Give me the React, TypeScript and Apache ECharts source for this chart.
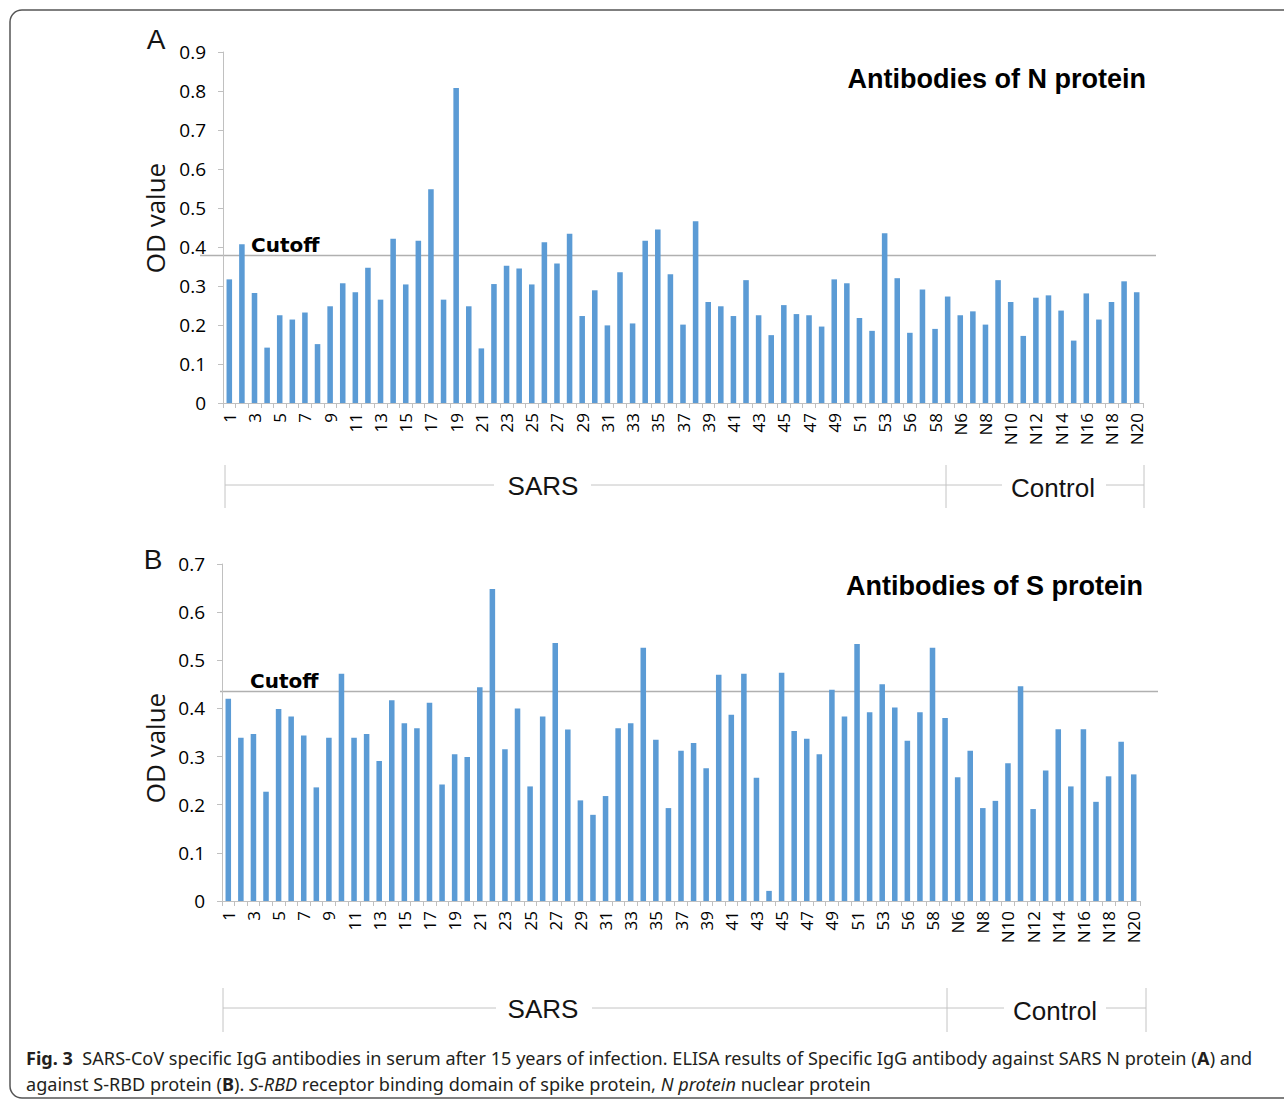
import React, { useEffect, useRef } from "react";
import * as echarts from "echarts";

const categories = [
  "1","2","3","4","5","6","7","8","9","10","11","12","13","14","15","16","17","18","19","20",
  "21","22","23","24","25","26","27","28","29","30","31","32","33","34","35","36","37","38","39","40",
  "41","42","43","44","45","46","47","48","49","50","51","52","53","55","56","57","58",
  "N5","N6","N7","N8","N9","N10","N11","N12","N13","N14","N15","N16","N17","N18","N19","N20",
];

const nProtein = [
  0.317, 0.407, 0.282, 0.142, 0.225, 0.214, 0.232, 0.151, 0.248, 0.307,
  0.284, 0.347, 0.265, 0.421, 0.304, 0.416, 0.548, 0.265, 0.808, 0.248,
  0.140, 0.305, 0.352, 0.345, 0.304, 0.412, 0.358, 0.434, 0.223, 0.289,
  0.199, 0.335, 0.204, 0.416, 0.445, 0.330, 0.201, 0.466, 0.259, 0.248,
  0.223, 0.315, 0.225, 0.174, 0.251, 0.228, 0.225, 0.196, 0.317, 0.307,
  0.218, 0.185, 0.435, 0.320, 0.180, 0.291, 0.190,
  0.273, 0.225, 0.235, 0.201, 0.315, 0.259, 0.172, 0.270, 0.276, 0.237,
  0.160, 0.281, 0.214, 0.259, 0.312, 0.284,
];

const sProtein = [
  0.420, 0.339, 0.347, 0.227, 0.399, 0.383, 0.344, 0.236, 0.339, 0.472,
  0.339, 0.347, 0.291, 0.417, 0.369, 0.359, 0.412, 0.242, 0.305, 0.299,
  0.444, 0.648, 0.315, 0.400, 0.238, 0.383, 0.536, 0.356, 0.209, 0.179,
  0.218, 0.359, 0.369, 0.526, 0.335, 0.193, 0.312, 0.328, 0.276, 0.470,
  0.387, 0.472, 0.256, 0.021, 0.474, 0.353, 0.337, 0.305, 0.439, 0.383,
  0.534, 0.392, 0.450, 0.402, 0.333, 0.392, 0.526,
  0.380, 0.257, 0.312, 0.193, 0.208, 0.286, 0.446, 0.191, 0.271, 0.357,
  0.238, 0.357, 0.206, 0.259, 0.331, 0.263,
];

const cutoffN = 0.378;
const cutoffS = 0.435;
const yMaxN = 0.9;
const yMaxS = 0.7;
const yStep = 0.1;

const titleN = "Antibodies of N protein";
const titleS = "Antibodies of S protein";
const groupLabels = ["SARS", "Control"];

const captionLine1 = "{b|Fig. 3}  SARS-CoV specific IgG antibodies in serum after 15 years of infection. ELISA results of Specific IgG antibody against SARS N protein ({b|A}) and";
const captionLine2 = "against S-RBD protein ({b|B}). {i|S-RBD} receptor binding domain of spike protein, {i|N protein} nuclear protein";

const BAR = "#5b9bd5";
const AXIS = "#c0c0c0";
const TXT = "#000000";
const LABEL_FONT = "'Open Sans', 'Noto Sans', sans-serif";
const ARIAL = "'Liberation Sans', Arial, sans-serif";
const CAP_FONT = "'Noto Sans', 'Open Sans', sans-serif";

function measure(text: string, size: number, family: string): number {
  const c = document.createElement("canvas").getContext("2d");
  if (!c) return 0;
  let w = 0;
  const re = /\{(\w)\|([^}]*)\}|([^{]+)/g;
  let m: RegExpExecArray | null;
  while ((m = re.exec(text))) {
    if (m[3] !== undefined) {
      c.font = `normal normal ${size}px ${family}`;
      w += c.measureText(m[3]).width;
    } else {
      const st = m[1] === "i" ? "italic" : "normal";
      const wt = m[1] === "b" ? "bold" : "normal";
      c.font = `${st} normal ${wt} ${size}px ${family}`;
      w += c.measureText(m[2]).width;
    }
  }
  return w;
}

function xAxisCfg(gridIndex: number) {
  return {
    type: "category" as const,
    gridIndex,
    data: categories,
    axisLine: { show: true, lineStyle: { color: AXIS, width: 1 } },
    axisTick: { show: true, interval: 0, length: 5, lineStyle: { color: AXIS } },
    axisLabel: {
      interval: 1,
      rotate: 90,
      fontSize: 17,
      fontFamily: LABEL_FONT,
      color: TXT,
      margin: 10,
    },
  };
}

function yAxisCfg(gridIndex: number, max: number) {
  return {
    type: "value" as const,
    gridIndex,
    min: 0,
    max,
    interval: yStep,
    splitLine: { show: false },
    axisLine: { show: true, lineStyle: { color: AXIS, width: 1 } },
    axisTick: { show: true, length: 5, lineStyle: { color: AXIS } },
    axisLabel: { fontSize: 19, fontFamily: LABEL_FONT, color: TXT, margin: 17 },
  };
}

export default function App() {
  const ref = useRef<HTMLDivElement>(null);

  useEffect(() => {
    if (!ref.current) return;
    const chart = echarts.init(ref.current, undefined, { renderer: "svg" });
    chart.setOption({
      animation: false,
      backgroundColor: "#ffffff",
      grid: [
        { left: 223, top: 52, width: 920, height: 351 },
        { left: 222, top: 564, width: 918, height: 337 },
      ],
      xAxis: [xAxisCfg(0), xAxisCfg(1)],
      yAxis: [yAxisCfg(0, yMaxN), yAxisCfg(1, yMaxS)],
      series: [
        {
          type: "bar",
          xAxisIndex: 0,
          yAxisIndex: 0,
          data: nProtein,
          barWidth: "44%",
          itemStyle: { color: BAR },
        },
        {
          type: "bar",
          xAxisIndex: 1,
          yAxisIndex: 1,
          data: sProtein,
          barWidth: "44%",
          itemStyle: { color: BAR },
        },
      ],
    });

    const yCutA = chart.convertToPixel({ yAxisIndex: 0 }, cutoffN) as number;
    const yCutB = chart.convertToPixel({ yAxisIndex: 1 }, cutoffS) as number;

    const capSize = 18;
    const w1 = measure(captionLine1, capSize, CAP_FONT);
    const capScale = w1 > 0 ? 1226 / w1 : 1;

    const lineStyle = { stroke: "#c4c4c4", lineWidth: 1 };
    const seg = (x1: number, y1: number, x2: number, y2: number, style = lineStyle) => ({
      type: "line",
      silent: true,
      shape: { x1, y1, x2, y2 },
      style,
    });
    const txt = (
      text: string,
      x: number,
      y: number,
      size: number,
      extra: Record<string, unknown> = {},
      family = ARIAL
    ) => ({
      type: "text",
      x,
      y,
      silent: true,
      style: {
        text,
        fontSize: size,
        fontFamily: family,
        fill: "#141414",
        align: "center",
        verticalAlign: "middle",
        ...extra,
      },
    });

    const bracket = (y: number, top: number, bottom: number, xs: number[], gaps: number[][], labelPos: number[][]) => {
      const els: any[] = [];
      xs.forEach((x) => els.push(seg(x, top, x, bottom)));
      gaps.forEach((g) => els.push(seg(g[0], y, g[1], y)));
      groupLabels.forEach((label, i) =>
        els.push(txt(label, labelPos[i][0], labelPos[i][1], 26))
      );
      return els;
    };

    const capRich = {
      b: { fontWeight: "bold", fontSize: capSize, fontFamily: CAP_FONT, fill: "#231f20" },
      i: { fontStyle: "italic", fontSize: capSize, fontFamily: CAP_FONT, fill: "#231f20" },
    };

    const graphic: any[] = [
      {
        type: "rect",
        silent: true,
        shape: { x: 10, y: 10, width: 1300, height: 1088, r: 12 },
        style: { fill: "none", stroke: "#555555", lineWidth: 1.5 },
      },
      txt("A", 156, 39, 28),
      txt("B", 153, 559, 28),
      {
        ...txt("OD value", 155, 218, 26, {}, LABEL_FONT),
        rotation: Math.PI / 2,
      },
      {
        ...txt("OD value", 155, 748, 26, {}, LABEL_FONT),
        rotation: Math.PI / 2,
      },
      txt(titleN, 1146, 79, 27, { align: "right", fontWeight: "bold", fill: "#000" }),
      txt(titleS, 1143, 586, 27, { align: "right", fontWeight: "bold", fill: "#000" }),
      seg(200, yCutA, 1156, yCutA, { stroke: "#b0b0b0", lineWidth: 1.5 }),
      seg(220, yCutB, 1158, yCutB, { stroke: "#b0b0b0", lineWidth: 1.5 }),
      txt("Cutoff", 251, yCutA - 10.5, 20, { align: "left", fontWeight: "bold", fill: "#000" }, "'DejaVu Sans', sans-serif"),
      txt("Cutoff", 250, yCutB - 10.5, 20, { align: "left", fontWeight: "bold", fill: "#000" }, "'DejaVu Sans', sans-serif"),
      ...bracket(485, 465, 508, [225, 946, 1144], [[225, 494], [591, 946], [946, 1002], [1106, 1144]], [[543, 486], [1053, 488]]),
      ...bracket(1008, 988, 1032, [223, 947, 1146], [[223, 496], [592, 947], [947, 1004], [1106, 1146]], [[543, 1009], [1055, 1011]]),
      {
        type: "text",
        x: 26,
        y: 1058,
        scaleX: capScale,
        silent: true,
        style: {
          text: captionLine1,
          fontSize: capSize,
          fontFamily: CAP_FONT,
          fill: "#231f20",
          align: "left",
          verticalAlign: "middle",
          rich: capRich,
        },
      },
      {
        type: "text",
        x: 26,
        y: 1084,
        scaleX: capScale,
        silent: true,
        style: {
          text: captionLine2,
          fontSize: capSize,
          fontFamily: CAP_FONT,
          fill: "#231f20",
          align: "left",
          verticalAlign: "middle",
          rich: capRich,
        },
      },
    ];

    chart.setOption({ graphic });

    return () => chart.dispose();
  }, []);

  return (
    <div
      ref={ref}
      style={{ position: "absolute", left: 0, top: 0, width: 1284, height: 1103, background: "#fff" }}
    />
  );
}
